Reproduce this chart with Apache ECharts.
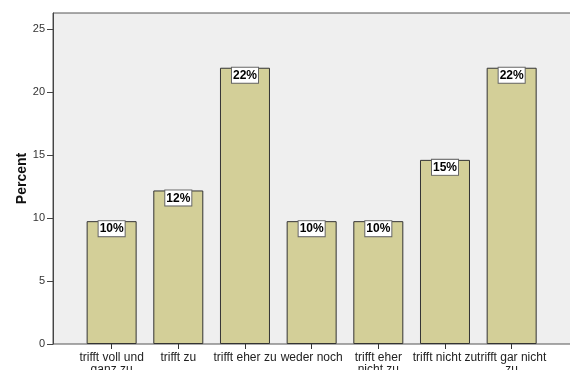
<!DOCTYPE html>
<html>
<head>
<meta charset="utf-8">
<style>
  html, body { margin: 0; padding: 0; background: #ffffff; }
  #chart { width: 570px; height: 370px; }
</style>
<script src="https://cdn.jsdelivr.net/npm/echarts@6/dist/echarts.min.js"></script>
</head>
<body>
<div id="chart"></div>
<script>
// Answer categories (x axis)
const categories = [
  'trifft voll und\nganz zu',
  'trifft zu',
  'trifft eher zu',
  'weder noch',
  'trifft eher\nnicht zu',
  'trifft nicht zu',
  'trifft gar nicht\nzu'
];
// Share of respondents per answer, in percent
const percentValues = [9.76, 12.20, 21.95, 9.76, 9.76, 14.63, 21.95];
// Y axis scale and tick labels
const yMin = 0;
const yMax = 26.3;
const yTicks = [0, 5, 10, 15, 20, 25];
const yTitle = 'Percent';

const FONT = 'Liberation Sans';
const plotTop = 13;
const plotBottom = 26;

const chart = echarts.init(document.getElementById('chart'), null, { renderer: 'canvas' });

chart.setOption({
  animation: false,
  backgroundColor: '#ffffff',
  grid: [
    // framed plot panel carrying the value axis
    {
      left: 53, top: plotTop, bottom: plotBottom, width: 540,
      show: true, backgroundColor: '#efefef', borderColor: '#555555', borderWidth: 1,
      containLabel: false, outerBoundsMode: 'none'
    },
    // inner band holding the categories and bars
    {
      left: 78.3, top: plotTop, bottom: plotBottom, width: 466.7,
      containLabel: false, outerBoundsMode: 'none'
    }
  ],
  xAxis: [
    { type: 'value', gridIndex: 0, min: 0, max: 1, show: false },
    {
      type: 'category', gridIndex: 1, data: categories,
      boundaryGap: true,
      axisLine: { show: false },
      axisTick: { show: true, alignWithLabel: true, length: 5, lineStyle: { color: '#333333' } },
      axisLabel: {
        interval: 0, margin: 8, color: '#222222', fontFamily: FONT, fontSize: 12,
        lineHeight: 12
      }
    }
  ],
  yAxis: [
    {
      type: 'value', gridIndex: 0, min: yMin, max: yMax,
      name: yTitle, nameLocation: 'middle', nameGap: 24, nameRotate: 90,
      nameMoveOverlap: false,
      nameTextStyle: { fontFamily: FONT, fontSize: 14, fontWeight: 'bold', color: '#111111' },
      axisLine: { show: true, lineStyle: { color: '#444444', width: 1 } },
      axisTick: { show: true, length: 6, customValues: yTicks, lineStyle: { color: '#444444' } },
      axisLabel: {
        margin: 8, color: '#333333', fontFamily: FONT, fontSize: 11,
        customValues: yTicks
      },
      splitLine: { show: false }
    },
    { type: 'value', gridIndex: 1, min: yMin, max: yMax, show: false }
  ],
  series: [
    {
      type: 'bar',
      xAxisIndex: 1, yAxisIndex: 1,
      data: percentValues,
      barCategoryGap: '25%',
      itemStyle: { color: '#d3cf98', borderColor: '#333333', borderWidth: 1 },
      label: {
        show: true,
        position: 'insideTop',
        distance: 0,
        formatter: p => Math.round(p.value) + '%',
        fontFamily: FONT, fontSize: 12, fontWeight: 'bold', color: '#000000',
        backgroundColor: '#ffffff',
        borderColor: '#666666', borderWidth: 1,
        padding: [2, 1, 1, 1]
      }
    }
  ]
});
</script>
</body>
</html>
